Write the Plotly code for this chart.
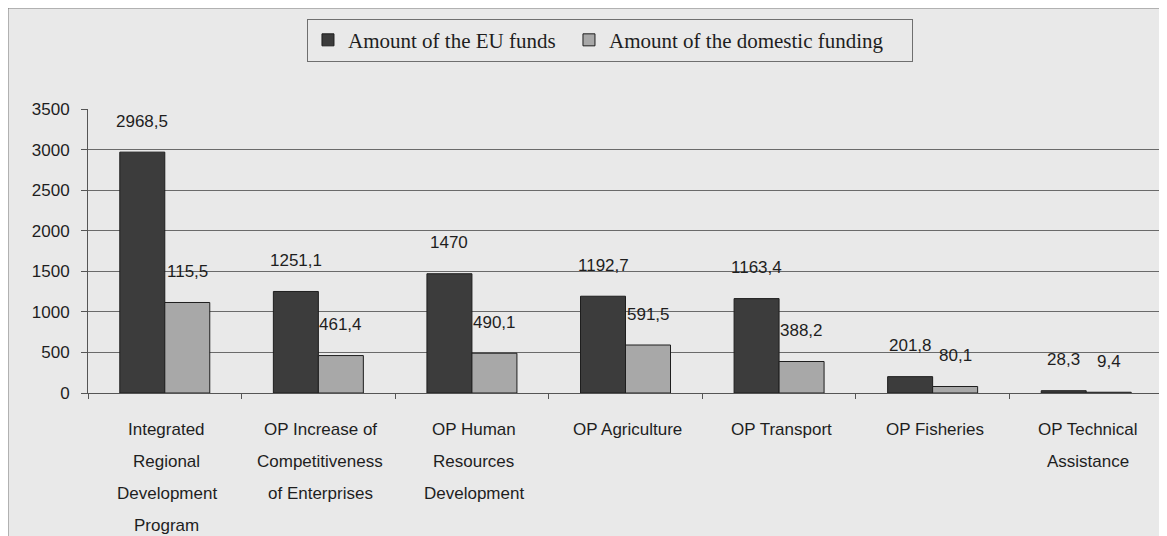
import plotly.graph_objects as go

categories = [
    "Integrated Regional Development Program",
    "OP Increase of Competitiveness of Enterprises",
    "OP Human Resources Development",
    "OP Agriculture",
    "OP Transport",
    "OP Fisheries",
    "OP Technical Assistance",
]
category_lines = [
    ["Integrated", "Regional", "Development", "Program"],
    ["OP Increase of", "Competitiveness", "of Enterprises"],
    ["OP Human", "Resources", "Development"],
    ["OP Agriculture"],
    ["OP Transport"],
    ["OP Fisheries"],
    ["OP Technical", "Assistance"],
]
eu_funds = [2968.5, 1251.1, 1470, 1192.7, 1163.4, 201.8, 28.3]
eu_labels = ["2968,5", "1251,1", "1470", "1192,7", "1163,4", "201,8", "28,3"]
domestic = [1115.5, 461.4, 490.1, 591.5, 388.2, 80.1, 9.4]
domestic_labels = ["115,5", "461,4", "490,1", "591,5", "388,2", "80,1", "9,4"]
y_ticks = [0, 500, 1000, 1500, 2000, 2500, 3000, 3500]

BG = "#e9e9e9"
TXT = "#1e1e1e"
SANS = "Liberation Sans, Arial, sans-serif"
SERIF = "Liberation Serif, Times New Roman, serif"

fig = go.Figure()
fig.add_trace(go.Bar(
    x=categories, y=eu_funds, name="Amount of the EU funds",
    marker=dict(color="#3c3c3c", line=dict(color="#1e1e1e", width=1)),
    legendwidth=216,
))
fig.add_trace(go.Bar(
    x=categories, y=domestic, name="Amount of the domestic funding",
    marker=dict(color="#a8a8a8", line=dict(color="#1e1e1e", width=1)),
    legendwidth=298,
))

annotations = []
for cat, v, t in zip(categories, eu_funds, eu_labels):
    annotations.append(dict(x=cat, y=v, text=t, showarrow=False, xshift=-22.5,
                            yshift=31, yanchor="middle", xanchor="center",
                            font=dict(family=SANS, size=17, color=TXT)))
for cat, v, t in zip(categories, domestic, domestic_labels):
    annotations.append(dict(x=cat, y=v, text=t, showarrow=False, xshift=22.5,
                            yshift=31, yanchor="middle", xanchor="center",
                            font=dict(family=SANS, size=17, color=TXT)))
for cat, lines in zip(categories, category_lines):
    for i, line in enumerate(lines):
        annotations.append(dict(x=cat, y=0, yref="y", text=line, showarrow=False,
                                yshift=-(36 + 32 * i), xshift=2, yanchor="middle",
                                xanchor="center",
                                font=dict(family=SANS, size=17, color=TXT)))

# the page adds an 8px body margin, so the figure starts at (8, 8)
fig.update_layout(
    width=1159, height=528,
    margin=dict(l=80, r=4, t=101, b=143),
    paper_bgcolor=BG, plot_bgcolor=BG,
    barmode="group", bargap=0.414, bargroupgap=0,
    font=dict(family=SANS, size=17, color=TXT),
    showlegend=True,
    legend=dict(
        orientation="h", x=0.2037, y=1.318, xanchor="left", yanchor="top",
        bgcolor=BG, bordercolor="#6f6f6f", borderwidth=1,
        font=dict(family=SERIF, size=21, color=TXT),
        itemclick=False,
    ),
    xaxis=dict(
        showticklabels=False, showgrid=False, showline=True,
        linecolor="#555555", linewidth=1, ticks="outside", tickson="boundaries",
        ticklen=5, tickcolor="#555555", zeroline=False,
    ),
    yaxis=dict(
        range=[0, 3500], tickvals=y_ticks, showgrid=True, gridcolor="#6a6a6a",
        gridwidth=1, showline=True, linecolor="#555555", linewidth=1,
        mirror=True, ticks="outside", ticklen=6, tickcolor="#555555",
        ticklabelstandoff=8,
        tickfont=dict(family=SANS, size=17, color=TXT), zeroline=False,
    ),
    annotations=annotations,
    shapes=[dict(type="rect", xref="paper", yref="paper",
                 x0=-80 / 1075, x1=1078 / 1075, y0=-0.52, y1=1 + 101 / 284,
                 line=dict(color="#7a7a7a", width=1), fillcolor="rgba(0,0,0,0)",
                 layer="below")],
)

fig.write_html("out.html")
